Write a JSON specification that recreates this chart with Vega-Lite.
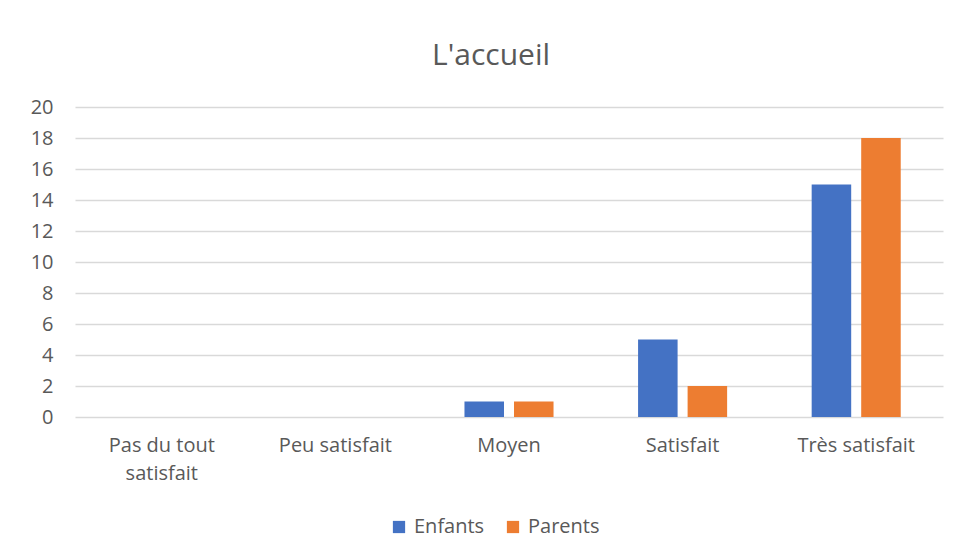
{
  "$schema": "https://vega.github.io/schema/vega-lite/v6.json",
  "autosize": {"type": "none"},
  "padding": {"left": 75, "top": 107, "right": 35, "bottom": 140},
  "width": 868,
  "height": 310,
  "background": "white",
  "title": {
    "text": "L'accueil",
    "font": "Open Sans",
    "fontSize": 30,
    "fontWeight": "normal",
    "color": "#595959",
    "anchor": "middle",
    "dx": -18,
    "offset": 26
  },
  "data": {
    "values": [
      {"categorie": "Pas du tout satisfait", "groupe": "Enfants", "valeur": 0},
      {"categorie": "Pas du tout satisfait", "groupe": "Parents", "valeur": 0},
      {"categorie": "Peu satisfait", "groupe": "Enfants", "valeur": 0},
      {"categorie": "Peu satisfait", "groupe": "Parents", "valeur": 0},
      {"categorie": "Moyen", "groupe": "Enfants", "valeur": 1},
      {"categorie": "Moyen", "groupe": "Parents", "valeur": 1},
      {"categorie": "Satisfait", "groupe": "Enfants", "valeur": 5},
      {"categorie": "Satisfait", "groupe": "Parents", "valeur": 2},
      {"categorie": "Très satisfait", "groupe": "Enfants", "valeur": 15},
      {"categorie": "Très satisfait", "groupe": "Parents", "valeur": 18}
    ]
  },
  "mark": {"type": "bar"},
  "encoding": {
    "x": {
      "field": "categorie",
      "type": "nominal",
      "sort": null,
      "title": null,
      "scale": {"paddingInner": 0.487, "paddingOuter": 0.2435},
      "axis": {
        "domain": false,
        "ticks": false,
        "labelAngle": 0,
        "labelFont": "Open Sans",
        "labelFontSize": 20,
        "labelColor": "#595959",
        "labelPadding": 18,
        "labelBaseline": "top",
        "labelLineHeight": 28,
        "labelExpr": "datum.value == 'Pas du tout satisfait' ? ['Pas du tout', 'satisfait'] : datum.value"
      }
    },
    "xOffset": {
      "field": "groupe",
      "type": "nominal",
      "scale": {"paddingInner": 0.202, "paddingOuter": 0}
    },
    "y": {
      "field": "valeur",
      "type": "quantitative",
      "title": null,
      "scale": {"domain": [0, 20], "nice": false},
      "axis": {
        "values": [0, 2, 4, 6, 8, 10, 12, 14, 16, 18, 20],
        "domain": false,
        "ticks": false,
        "grid": true,
        "gridColor": "#D9D9D9",
        "gridWidth": 1.5,
        "labelFont": "Open Sans",
        "labelFontSize": 20,
        "labelColor": "#595959",
        "labelPadding": 22
      }
    },
    "color": {
      "field": "groupe",
      "type": "nominal",
      "title": null,
      "scale": {"domain": ["Enfants", "Parents"], "range": ["#4472C4", "#ED7D31"]},
      "legend": {
        "orient": "none",
        "direction": "horizontal",
        "legendX": 314,
        "legendY": 410,
        "symbolType": "square",
        "symbolSize": 150,
        "symbolStrokeWidth": 0,
        "labelFont": "Open Sans",
        "labelFontSize": 20,
        "labelColor": "#595959",
        "labelOffset": 5,
        "columnPadding": 18
      }
    }
  },
  "config": {
    "view": {"stroke": null}
  }
}
